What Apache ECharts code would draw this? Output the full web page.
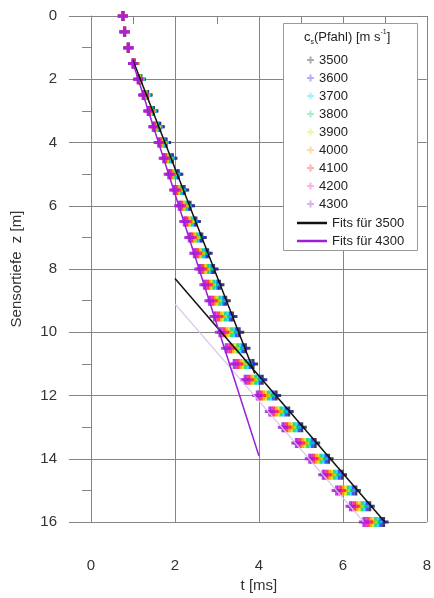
<!DOCTYPE html>
<html><head><meta charset="utf-8">
<script src="https://cdn.jsdelivr.net/npm/echarts@6/dist/echarts.min.js"></script>
<style>html,body{margin:0;padding:0;background:#fff}#c{width:434px;height:598px}</style>
</head><body><div id="c"></div>
<script>
var depths = [0,0.5,1,1.5,2,2.5,3,3.5,4,4.5,5,5.5,6,6.5,7,7.5,8,8.5,9,9.5,10,10.5,11,11.5,12,12.5,13,13.5,14,14.5,15,15.5,16];
var velocities = ['3500','3600','3700','3800','3900','4000','4100','4200','4300'];
var t3500 = [0.76,0.80,0.89,1.03,1.19,1.35,1.49,1.64,1.79,1.94,2.08,2.22,2.36,2.50,2.64,2.78,2.92,3.06,3.21,3.37,3.53,3.68,3.86,4.08,4.41,4.71,5.02,5.34,5.66,5.98,6.31,6.64,6.97];
var t3600 = [0.76,0.80,0.89,1.03,1.18,1.33,1.47,1.62,1.76,1.91,2.05,2.18,2.32,2.46,2.60,2.73,2.87,3.01,3.15,3.31,3.46,3.61,3.79,4.02,4.34,4.64,4.95,5.27,5.59,5.91,6.24,6.57,6.90];
var t3700 = [0.76,0.80,0.89,1.02,1.17,1.32,1.45,1.59,1.74,1.88,2.01,2.15,2.28,2.42,2.55,2.69,2.82,2.96,3.10,3.25,3.40,3.55,3.73,3.96,4.28,4.58,4.89,5.21,5.53,5.85,6.18,6.51,6.83];
var t3800 = [0.76,0.80,0.89,1.02,1.16,1.30,1.44,1.57,1.71,1.85,1.98,2.12,2.25,2.38,2.51,2.65,2.78,2.91,3.05,3.19,3.34,3.49,3.67,3.91,4.22,4.52,4.83,5.15,5.47,5.79,6.12,6.45,6.77];
var t3900 = [0.76,0.80,0.89,1.01,1.15,1.29,1.42,1.55,1.69,1.82,1.95,2.09,2.22,2.35,2.48,2.60,2.73,2.86,3.00,3.13,3.28,3.43,3.61,3.85,4.16,4.46,4.77,5.09,5.41,5.73,6.06,6.39,6.71];
var t4000 = [0.76,0.80,0.89,1.01,1.14,1.28,1.40,1.53,1.67,1.80,1.93,2.06,2.19,2.31,2.44,2.57,2.69,2.82,2.95,3.08,3.22,3.37,3.56,3.81,4.11,4.41,4.72,5.04,5.36,5.68,6.00,6.33,6.66];
var t4100 = [0.76,0.80,0.89,1.01,1.13,1.26,1.39,1.51,1.65,1.77,1.90,2.03,2.15,2.28,2.40,2.53,2.65,2.78,2.90,3.03,3.17,3.32,3.50,3.76,4.05,4.35,4.66,4.98,5.30,5.62,5.95,6.28,6.60];
var t4200 = [0.76,0.80,0.89,1.00,1.13,1.25,1.37,1.50,1.63,1.75,1.87,2.00,2.13,2.25,2.37,2.49,2.61,2.74,2.86,2.98,3.12,3.27,3.46,3.71,4.00,4.30,4.61,4.93,5.25,5.57,5.90,6.23,6.55];
var t4300 = [0.76,0.80,0.89,1.00,1.12,1.24,1.36,1.48,1.61,1.73,1.85,1.98,2.10,2.22,2.34,2.46,2.58,2.70,2.82,2.94,3.07,3.22,3.41,3.67,3.96,4.26,4.57,4.89,5.21,5.53,5.85,6.18,6.50];
var fit3500Upper = [[1.00,1.4],[3.90,11.3]];
var fit3500Lower = [[2.00,8.3],[7.00,16.0]];
var fit4300Upper = [[0.98,1.4],[4.00,13.9]];
var fit4300Lower = [[2.00,9.1],[6.50,16.0]];
var xTicks = {min:0, max:8, step:2};
var yTicks = {min:0, max:16, step:2};

var colors = ['#111133','#2020ff','#00d8ff','#00d060','#e0e000','#ff9a00','#ff2020','#ff20c8','#9a1fe0'];
var tSets = [t3500,t3600,t3700,t3800,t3900,t4000,t4100,t4200,t4300];
var plus = 'path://M3.5,0H6.5V3.5H10V6.5H6.5V10H3.5V6.5H0V3.5H3.5Z';
var FONT = 'Liberation Sans, Arial, sans-serif';
var gridColor = '#858585';

var series = velocities.map(function(v, i){
  return {
    name: v, type: 'scatter', symbol: plus, symbolSize: 10,
    itemStyle: {color: colors[i]}, z: 2,
    data: depths.map(function(z, k){ return [tSets[i][k], z]; })
  };
});
function fitSeries(name, data, color, width, z){
  return {name: name, type: 'line', data: data, symbol: 'none', silent: true,
    lineStyle: {color: color, width: width}, itemStyle: {color: color}, z: z};
}
series.push(fitSeries('Fits für 3500', fit3500Upper, '#111111', 1.5, 5));
series.push(fitSeries('Fits für 3500 b', fit3500Lower, '#111111', 1.5, 5));
series.push(fitSeries('Fits für 4300', fit4300Upper, '#9a1fd6', 1.5, 5));
series.push(fitSeries('Fits für 4300 b', fit4300Lower, '#dcc2ea', 1.2, 4));

var chart = echarts.init(document.getElementById('c'), null, {renderer: 'canvas'});
chart.setOption({
  animation: false,
  backgroundColor: '#ffffff',
  grid: {left: 91, right: 4, top: 16, bottom: 73, containLabel: false},
  xAxis: {
    type: 'value', min: xTicks.min, max: xTicks.max, interval: xTicks.step, position: 'bottom',
    axisLine: {show: true, lineStyle: {color: gridColor, width: 1}},
    axisTick: {show: true, length: 20, lineStyle: {color: gridColor}},
    minorTick: {show: true, splitNumber: 2, length: 8, lineStyle: {color: gridColor}},
    splitLine: {show: true, lineStyle: {color: gridColor, width: 1}},
    axisLabel: {margin: 36, fontSize: 15, color: '#333', fontFamily: FONT},
    name: 't [ms]', nameLocation: 'middle', nameGap: 53,
    nameTextStyle: {fontSize: 15, color: '#333', fontFamily: FONT}
  },
  yAxis: {
    type: 'value', inverse: true, min: yTicks.min, max: yTicks.max, interval: yTicks.step, position: 'left',
    axisLine: {show: true, lineStyle: {color: gridColor, width: 1}},
    axisTick: {show: true, length: 22, lineStyle: {color: gridColor}},
    minorTick: {show: true, splitNumber: 2, length: 9, lineStyle: {color: gridColor}},
    splitLine: {show: true, lineStyle: {color: gridColor, width: 1}},
    axisLabel: {margin: 34, fontSize: 15, color: '#333', fontFamily: FONT},
    name: 'Sensortiefe  z [m]', nameLocation: 'middle', nameGap: 67, nameRotate: 90,
    nameTextStyle: {fontSize: 15, color: '#333', fontFamily: FONT}
  },
  legend: [
    {
      data: velocities.map(function(v){ return {name: v, itemStyle: {opacity: 0.35}}; }),
      orient: 'vertical', left: 302, top: 48, itemWidth: 7, itemHeight: 7, itemGap: 4, itemTextGap: 18,
      textStyle: {fontSize: 13, lineHeight: 14, color: '#222', fontFamily: FONT},
      selectedMode: false, z: 6
    },
    {
      data: [{name: 'Fits für 3500', icon: 'rect'}, {name: 'Fits für 4300', icon: 'rect'}],
      orient: 'vertical', left: 292, top: 211, itemWidth: 30, itemHeight: 2.5, itemGap: 4, itemTextGap: 6,
      textStyle: {fontSize: 13, lineHeight: 14, color: '#222', fontFamily: FONT},
      selectedMode: false, z: 6
    }
  ],
  graphic: [
    {type: 'rect', left: 283, top: 23, z: 5, shape: {width: 134, height: 227},
      style: {fill: '#ffffff', stroke: '#9a9a9a', lineWidth: 1}},
    {type: 'text', left: 304, top: 29, z: 6,
      style: {
        text: '{b|c}{s|s}{b|(Pfahl) [m s}{p|-1}{b|]}',
        rich: {
          b: {fontSize: 13, lineHeight: 17, fill: '#222', fontFamily: FONT, verticalAlign: 'middle'},
          s: {fontSize: 7, lineHeight: 17, fill: '#222', fontFamily: FONT, verticalAlign: 'bottom'},
          p: {fontSize: 7, lineHeight: 17, fill: '#222', fontFamily: FONT, verticalAlign: 'top'}
        }
      }}
  ],
  series: series
});
</script></body></html>
